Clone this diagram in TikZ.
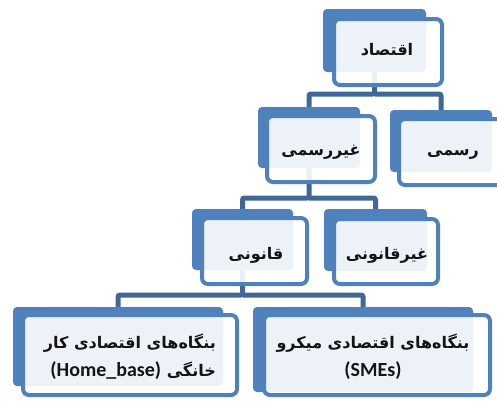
\documentclass[tikz,border=0pt]{standalone}
\usepackage{fontspec}
\TeXXeTstate=1
\newfontfamily\fa[Script=Arabic]{DejaVu Sans}
\newfontfamily\lat{Carlito}
\definecolor{boxblue}{HTML}{4F81BD}
\definecolor{connblue}{HTML}{3F6898}
\definecolor{txt}{HTML}{141414}
\tikzset{
  backbox/.style={fill=boxblue, rounded corners=4pt, inner sep=0pt},
  outlbox/.style={draw=boxblue, line width=4pt, fill=white, fill opacity=0.9, draw opacity=1, rounded corners=6pt},
  conn/.style={draw=connblue, line width=5pt, rounded corners=2pt},
  lbl/.style={text=txt, inner sep=0pt, font=\fa\bfseries\fontsize{16}{28}\selectfont}
}
\newcommand\latxt[1]{{\lat\bfseries\fontsize{20}{28}\selectfont #1}}
\newcommand\tierbox[9]{%
  \path[backbox] (#2,#3) rectangle (#4,#5) coordinate[pos=0.5] (#1);
  \path[outlbox] (#6,#7) rectangle (#8,#9);
}
\begin{document}
\begin{tikzpicture}[x=1pt,y=-1pt]
\useasboundingbox (0,0) rectangle (497,400);
% anchor coordinates for connectors
\coordinate (eco-s) at (374.5,72);
\coordinate (inf-n) at (309,107);
\coordinate (inf-s) at (309,168);
\coordinate (frm-n) at (441,110);
\coordinate (leg-n) at (242.5,209);
\coordinate (leg-s) at (242.5,270);
\coordinate (ill-n) at (375.5,209);
\coordinate (home-n) at (118,307);
\coordinate (sme-n) at (363,307);
% connectors
\draw[conn] (eco-s) -- ++(0,22) coordinate (j1) -| (inf-n);
\draw[conn] (j1) -| (frm-n);
\draw[conn] (inf-s) -- ++(0,30) coordinate (j2) -| (leg-n);
\draw[conn] (j2) -| (ill-n);
\draw[conn] (leg-s) -- ++(0,25) coordinate (j3) -| (home-n);
\draw[conn] (j3) -| (sme-n);
% boxes
\tierbox{eco}{323}{9}{426}{72}{334}{19}{442}{85}
\tierbox{inf}{258}{107}{360}{168}{267}{116}{375}{182}
\tierbox{frm}{390}{110}{492}{172}{399}{119}{508}{185}
\tierbox{leg}{192}{209}{293}{270}{202}{218}{307}{284}
\tierbox{ill}{324}{209}{427}{271}{334}{219}{438}{284}
\tierbox{home}{13}{307}{223}{386}{23}{315}{237}{395}
\tierbox{sme}{253}{307}{473}{392}{264}{315}{490}{395}
% labels
\node[lbl] (t-eco) at (387,50) {\beginR اقتصاد\endR};
\node[lbl] (t-inf) at (321,152) {\beginR غیررسمی\endR};
\node[lbl] (t-frm) at (453,155) {\beginR رسمی\endR};
\node[lbl] (t-leg) at (256,255) {\beginR قانونی\endR};
\node[lbl] (t-ill) at (387,255) {\beginR غیرقانونی\endR};
\node[lbl, align=right, anchor=east] (t-home) at (216,357) {\beginR بنگاه‌های اقتصادی کار\endR\\\beginR خانگی \beginL\latxt{(Home\_base)}\endL\endR};
\node[lbl, align=center] (t-sme) at (373,357) {\beginR بنگاه‌های اقتصادی میکرو\endR\\\latxt{(SMEs)}};
\end{tikzpicture}
\end{document}
